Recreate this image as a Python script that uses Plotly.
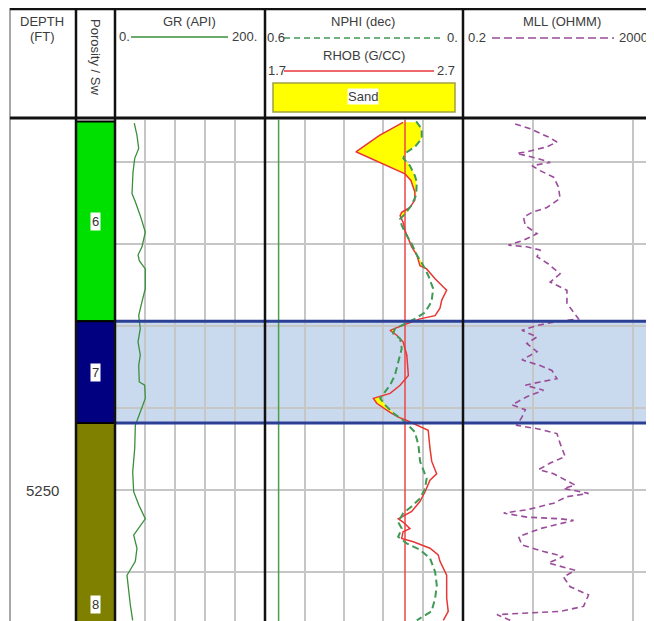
import numpy as np
import plotly.graph_objects as go

# page is rendered with an 8px body margin: figure fills the rest of the 654x621 window
OX, OY = 8, 8
W, H = 654 - OX, 621 - OY

# ---------------- data ----------------
gr_depth = [5205.2, 5206.7, 5208.3, 5209.5, 5211.2, 5213.8, 5214.8, 5216.5, 5218.5, 5220.3,
            5221.3, 5222.0, 5223.0, 5225.4, 5227.0, 5228.7, 5230.3, 5231.9, 5233.5, 5234.8,
            5236.8, 5237.2, 5238.8, 5240.5, 5242.1, 5244.9, 5247.8, 5250.2, 5251.8, 5253.5,
            5254.3, 5255.5, 5257.1, 5258.7, 5260.4, 5262.4, 5264.0, 5265.9]
gr_api = [25.7, 29.3, 31.6, 26.3, 24.0, 22.7, 27.1, 33.7, 40.4, 36.0,
          30.7, 32.4, 40.4, 40.4, 36.0, 31.6, 33.7, 30.7, 33.7, 31.6,
          32.4, 39.6, 40.4, 33.7, 27.1, 26.3, 23.6, 24.9, 31.6, 40.4,
          33.7, 24.9, 29.3, 27.1, 16.0, 18.3, 20.4, 23.6]

rhob_depth = [5205.1, 5206.7, 5208.7, 5210.0, 5211.4, 5212.2, 5213.6, 5214.6, 5215.5, 5216.1,
              5216.5, 5217.3, 5218.3, 5219.3, 5220.3, 5221.3, 5222.6, 5223.0, 5224.2, 5225.2,
              5225.6, 5226.8, 5227.8, 5228.7, 5229.1, 5229.7, 5230.3, 5230.5, 5231.1, 5231.9,
              5233.5, 5235.2, 5236.0, 5237.2, 5238.2, 5238.8, 5239.4, 5240.5, 5241.1, 5241.5,
              5242.1, 5242.7, 5244.9, 5246.5, 5248.0, 5248.8, 5250.2, 5251.4, 5252.6, 5253.5,
              5253.9, 5254.7, 5255.1, 5255.9, 5256.3, 5257.1, 5257.9, 5258.7, 5260.4, 5263.2,
              5264.8, 5265.9]
rhob_gcc = [2.40, 2.28, 2.16, 2.28, 2.41, 2.44, 2.46, 2.46, 2.435, 2.393,
            2.385, 2.40, 2.41, 2.427, 2.444, 2.47, 2.486, 2.52, 2.563, 2.605,
            2.622, 2.597, 2.588, 2.563, 2.486, 2.419, 2.35, 2.334, 2.368, 2.40,
            2.419, 2.427, 2.427, 2.385, 2.334, 2.249, 2.266, 2.334, 2.376, 2.419,
            2.47, 2.528, 2.537, 2.546, 2.571, 2.537, 2.512, 2.486, 2.444, 2.376,
            2.40, 2.435, 2.40, 2.393, 2.452, 2.537, 2.579, 2.588, 2.622, 2.622,
            2.63, 2.605]

nphi_depth = [5205.0, 5205.9, 5207.1, 5208.1, 5208.9, 5209.5, 5210.4, 5211.6, 5212.4, 5214.0,
              5215.2, 5216.3, 5216.9, 5217.7, 5218.9, 5219.9, 5221.3, 5222.6, 5223.8, 5225.4,
              5227.0, 5228.3, 5229.1, 5229.7, 5230.3, 5230.9, 5231.5, 5232.7, 5234.4, 5235.4,
              5236.0, 5237.2, 5238.2, 5238.8, 5239.6, 5240.6, 5241.5, 5242.1, 5242.9, 5244.5,
              5246.5, 5248.6, 5249.8, 5251.0, 5252.0, 5252.8, 5253.9, 5254.7, 5255.7, 5256.5,
              5257.3, 5258.3, 5260.0, 5261.6, 5263.2, 5264.8, 5265.9]
nphi_dec = [0.140, 0.123, 0.123, 0.144, 0.174, 0.179, 0.159, 0.144, 0.138, 0.140,
            0.154, 0.174, 0.189, 0.184, 0.169, 0.154, 0.138, 0.118, 0.103, 0.088,
            0.093, 0.113, 0.144, 0.174, 0.205, 0.210, 0.189, 0.184, 0.195, 0.202,
            0.205, 0.220, 0.240, 0.250, 0.235, 0.210, 0.179, 0.164, 0.144, 0.133,
            0.128, 0.108, 0.113, 0.128, 0.154, 0.179, 0.195, 0.184, 0.195, 0.169,
            0.128, 0.098, 0.082, 0.077, 0.082, 0.093, 0.138]

mll_depth = [5205.3, 5205.9, 5206.9, 5207.5, 5208.1, 5208.7, 5208.9, 5209.5, 5210.0, 5210.4,
             5211.0, 5211.8, 5213.0, 5214.4, 5215.5, 5216.1, 5216.7, 5217.7, 5218.7, 5219.5,
             5220.1, 5220.3, 5220.7, 5221.5, 5222.4, 5223.6, 5224.6, 5225.2, 5225.6, 5227.2,
             5228.5, 5229.1, 5229.5, 5229.9, 5230.5, 5231.3, 5232.1, 5233.1, 5234.1, 5234.8,
             5235.4, 5236.4, 5236.8, 5237.2, 5237.8, 5238.6, 5239.6, 5240.2, 5241.1, 5242.1,
             5242.5, 5243.1, 5244.3, 5245.9, 5246.7, 5247.5, 5248.0, 5249.4, 5249.8, 5250.4,
             5250.8, 5251.6, 5252.4, 5252.8, 5253.3, 5253.5, 5253.7, 5254.7, 5255.7, 5256.7,
             5257.5, 5258.1, 5258.9, 5259.8, 5260.6, 5261.8, 5262.8, 5264.2, 5264.8, 5265.0,
             5265.2, 5265.9]
mll_ohmm = [0.665, 0.94, 1.43, 1.74, 1.38, 0.87, 0.69, 1.10, 1.49, 0.98,
            1.18, 1.61, 1.80, 1.87, 1.38, 0.98, 0.805, 0.84, 1.10, 0.805,
            0.57, 0.87, 1.18, 1.10, 1.43, 1.87, 1.49, 1.87, 2.19, 2.19,
            2.65, 2.86, 1.61, 1.10, 0.776, 1.10, 0.87, 1.10, 0.776, 1.18,
            1.55, 1.74, 1.18, 0.84, 1.28, 0.87, 0.617, 0.84, 0.776, 0.69,
            1.10, 1.74, 1.87, 2.10, 1.49, 1.14, 1.61, 2.65, 2.02, 3.60,
            2.19, 1.61, 0.87, 0.51, 0.87, 1.87, 2.55, 1.18, 0.72, 0.776,
            1.28, 2.02, 1.43, 2.65, 2.02, 2.36, 3.60, 3.21, 1.87, 0.87,
            0.437, 0.593]

zone_names = ["6", "7", "8"]
zone_tops = [5205.0, 5229.4, 5241.8]
zone_bottoms = [5229.4, 5241.8, 5286.2]
zone_colors = ["#00e000", "#000080", "#808000"]
highlight_zone = "7"

depth_labels = [5250]
rhob_cutoff = 2.41
nphi_cutoff = 0.56

depth_top, depth_bottom = 5204.76, 5265.98
gr_range = [0, 200]
rhob_range = [1.7, 2.7]
nphi_range = [0.6, 0.0]
mll_min, mll_max = 0.2, 2000

# ---------------- helpers (page pixels -> paper) ----------------
def px(x):
    return (x - OX) / W


def py(y):
    return 1 - (y - OY) / H


FONT = "Liberation Sans, Arial, sans-serif"
TXT = "#3c3c3c"
GRID = "#c6c6c6"
GR_COL = "#3a8f3a"
NPHI_COL = "#3f9a55"
RHOB_COL = "#e8363a"
MLL_COL = "#9a4c9a"

fig = go.Figure()

# crossover fill (RHOB vs NPHI expressed on the RHOB scale)
lo = max(rhob_depth[0], nphi_depth[0])
hi = min(rhob_depth[-1], nphi_depth[-1])
d_all = np.union1d(np.union1d(rhob_depth, nphi_depth), np.linspace(lo, hi, 3000))
d_all = d_all[(d_all >= lo) & (d_all <= hi)]
r_i = np.interp(d_all, rhob_depth, rhob_gcc)
n_i = np.interp(d_all, nphi_depth, nphi_dec)
n_eq = rhob_range[0] + (nphi_range[0] - n_i) / (nphi_range[0] - nphi_range[1]) * (rhob_range[1] - rhob_range[0])
right = np.maximum(r_i, n_eq)
fig.add_trace(go.Scatter(x=np.concatenate([r_i, right[::-1]]), y=np.concatenate([d_all, d_all[::-1]]),
                         xaxis="x2", yaxis="y", mode="lines", fill="toself", fillcolor="#ffff00",
                         line=dict(width=0, color="#ffff00"), hoverinfo="skip"))

# GR
fig.add_trace(go.Scatter(x=gr_api, y=gr_depth, xaxis="x", yaxis="y", mode="lines",
                         line=dict(color=GR_COL, width=1.3)))
# cutoff lines
fig.add_trace(go.Scatter(x=[nphi_cutoff, nphi_cutoff], y=[depth_top, depth_bottom], xaxis="x3", yaxis="y",
                         mode="lines", line=dict(color="#4aa04a", width=1.5)))
fig.add_trace(go.Scatter(x=[rhob_cutoff, rhob_cutoff], y=[depth_top, depth_bottom], xaxis="x2", yaxis="y",
                         mode="lines", line=dict(color="#ee4646", width=1.5)))
# NPHI
fig.add_trace(go.Scatter(x=nphi_dec, y=nphi_depth, xaxis="x3", yaxis="y", mode="lines",
                         line=dict(color=NPHI_COL, width=2, dash="7px,4px")))
# RHOB
fig.add_trace(go.Scatter(x=rhob_gcc, y=rhob_depth, xaxis="x2", yaxis="y", mode="lines",
                         line=dict(color=RHOB_COL, width=1.5)))
# MLL
fig.add_trace(go.Scatter(x=mll_ohmm, y=mll_depth, xaxis="x4", yaxis="y", mode="lines",
                         line=dict(color=MLL_COL, width=1.6, dash="6px,4px")))

# ---------------- shapes ----------------
shapes = []
zi = zone_names.index(highlight_zone)
# highlight band
shapes.append(dict(type="rect", xref="paper", yref="y", x0=px(115), x1=1,
                   y0=zone_tops[zi], y1=zone_bottoms[zi], fillcolor="rgba(150,182,222,0.5)",
                   line=dict(width=0), layer="between"))
# porosity zones
for name, t, b, c in zip(zone_names, zone_tops, zone_bottoms, zone_colors):
    t2 = max(t, depth_top)
    b2 = min(b, depth_bottom + 5)
    shapes.append(dict(type="rect", xref="paper", yref="y", x0=px(76), x1=px(115), y0=t2, y1=b2,
                       fillcolor=c, line=dict(color="black", width=2), layer="above"))
# highlight borders
for yv in (zone_tops[zi], zone_bottoms[zi]):
    shapes.append(dict(type="line", xref="paper", yref="y", x0=px(115), x1=1, y0=yv, y1=yv,
                       line=dict(color="#2b3f95", width=3), layer="above"))

# frame lines
shapes.append(dict(type="line", xref="paper", yref="paper", x0=px(10), x1=px(10), y0=py(8), y1=0,
                   line=dict(color="#8a8a8a", width=1.5)))
for xv in (76, 115, 265, 463):
    shapes.append(dict(type="line", xref="paper", yref="paper", x0=px(xv), x1=px(xv), y0=py(8), y1=0,
                       line=dict(color="#111111", width=2.5)))
shapes.append(dict(type="line", xref="paper", yref="paper", x0=px(10), x1=1, y0=py(9), y1=py(9),
                   line=dict(color="#111111", width=2.5)))
shapes.append(dict(type="line", xref="paper", yref="paper", x0=px(10), x1=1, y0=py(118), y1=py(118),
                   line=dict(color="#111111", width=3)))

# header legend samples
hdr_lines = [
    (131, 228, 37, GR_COL, "solid", 1.5),
    (284, 443, 38, NPHI_COL, "6px,4px", 1.5),
    (284, 434, 71, RHOB_COL, "solid", 1.5),
    (492, 614, 38, MLL_COL, "8px,4px", 1.5),
]
for x0, x1, yv, col, dash, w in hdr_lines:
    shapes.append(dict(type="line", xref="paper", yref="paper", x0=px(x0), x1=px(x1), y0=py(yv), y1=py(yv),
                       line=dict(color=col, width=w, dash=dash)))
# Sand box
shapes.append(dict(type="rect", xref="paper", yref="paper", x0=px(273), x1=px(455), y0=py(112), y1=py(83),
                   fillcolor="#ffff00", line=dict(color="#a0a040", width=1.5)))

# ---------------- annotations ----------------
ann = []


def txt(x, y, s, size=13, anchor="center", angle=0, bg=None):
    d = dict(x=px(x), y=py(y), xref="paper", yref="paper", text=s, showarrow=False,
             xanchor=anchor, yanchor="middle", textangle=angle,
             font=dict(family=FONT, size=size, color=TXT))
    if bg:
        d["bgcolor"] = bg
        d["borderpad"] = 0
    ann.append(d)


txt(42, 21, "DEPTH")
txt(42, 37, "(FT)")
txt(95, 57, "Porosity / Sw", size=13, angle=90)
txt(190, 21, "GR (API)")
txt(117, 37, "0.", anchor="left")
txt(230, 37, "200.", anchor="left")
txt(363, 21, "NPHI (dec)")
txt(265, 38, "0.6", anchor="left")
txt(445, 38, "0.", anchor="left")
txt(364, 55, "RHOB (G/CC)")
txt(266, 71, "1.7", anchor="left")
txt(435, 71, "2.7", anchor="left")
txt(363, 97, "Sand", bg="#ffffff")
txt(562, 21, "MLL (OHMM)")
txt(466, 38, "0.2", anchor="left")
txt(617, 38, "2000", anchor="left")

for dv in depth_labels:
    ann.append(dict(x=px(42), y=dv, xref="paper", yref="y", text=str(dv), showarrow=False,
                    xanchor="center", yanchor="middle", font=dict(family=FONT, size=15, color=TXT)))

for name, t, b in zip(zone_names, zone_tops, zone_bottoms):
    ann.append(dict(x=px(95.5), y=(t + b) / 2, xref="paper", yref="y", text=name, showarrow=False,
                    xanchor="center", yanchor="middle", bgcolor="#ffffff", borderpad=1,
                    font=dict(family=FONT, size=13, color="#333333")))

axis_common = dict(showticklabels=False, zeroline=False, showline=False, ticks="",
                   gridcolor=GRID, gridwidth=1.5)

fig.update_layout(
    width=W, height=H, margin=dict(l=0, r=0, t=0, b=0),
    paper_bgcolor="white", plot_bgcolor="rgba(0,0,0,0)", showlegend=False,
    yaxis=dict(domain=[0, py(119.5)], range=[depth_bottom, depth_top], tick0=5200, dtick=10,
               showgrid=True, anchor="x", **axis_common),
    xaxis=dict(domain=[px(115), px(265)], range=gr_range, tick0=0, dtick=40, showgrid=True,
               anchor="y", **axis_common),
    xaxis2=dict(domain=[px(265.5), px(462)], range=rhob_range, tick0=1.7, dtick=0.2, showgrid=True,
                anchor="y", **axis_common),
    xaxis3=dict(overlaying="x2", range=nphi_range, showgrid=False, anchor="y", **axis_common),
    xaxis4=dict(domain=[px(463), 1], type="log",
                range=[np.log10(mll_min), np.log10(mll_min) + (654 - 463) / 100.0],
                tickvals=[1, 10, 100, 1000], showgrid=True, anchor="y", **axis_common),
    shapes=shapes, annotations=ann,
)

fig.write_html("out.html")
